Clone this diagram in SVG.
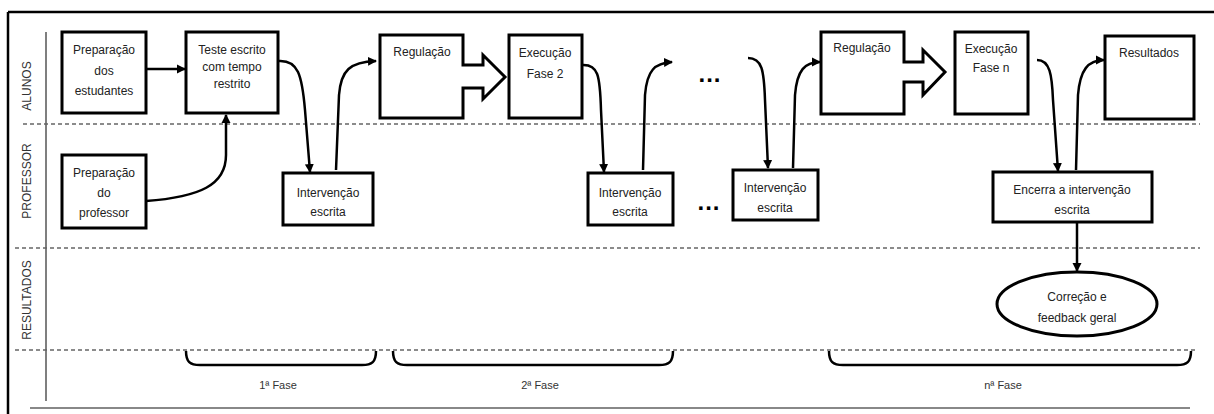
<svg xmlns="http://www.w3.org/2000/svg" width="1214" height="414" viewBox="0 0 1214 414">
<style>
.box{fill:#fff;stroke:#000;stroke-width:3}
.t{font-family:"Liberation Sans",Arial,sans-serif;font-size:12px;fill:#222;text-anchor:middle}
.lane{font-family:"Liberation Sans",Arial,sans-serif;font-size:12px;fill:#333;text-anchor:middle}
.ph{font-family:"Liberation Sans",Arial,sans-serif;font-size:11px;fill:#333;text-anchor:middle}
.dots{font-family:"Liberation Sans",Arial,sans-serif;font-size:24px;font-weight:bold;fill:#000;text-anchor:middle;letter-spacing:1px}
.c{fill:none;stroke:#000;stroke-width:2.5;marker-end:url(#ah)}
.dash{stroke:#666;stroke-width:1.5;stroke-dasharray:4 3;fill:none}
.brace{fill:none;stroke:#000;stroke-width:2.5}
</style>
<defs>
<marker id="ah" markerUnits="userSpaceOnUse" markerWidth="10" markerHeight="10" refX="8" refY="5" orient="auto">
<path d="M0,0.5 L9,5 L0,9.5 z" fill="#000"/>
</marker>
</defs>
<rect width="1214" height="414" fill="#fff"/>
<g id="frame">
<path d="M8,12 L1214,12" stroke="#000" stroke-width="2.5"/>
<path d="M8,12 L8,414" stroke="#000" stroke-width="2.5"/>
<path d="M30,408 L1190,408" stroke="#888" stroke-width="2"/>
<path d="M46,32 L46,401" stroke="#555" stroke-width="1.5"/>
<path class="dash" d="M23,124 L1200,124"/>
<path class="dash" d="M15,248 L1200,248"/>
<path class="dash" d="M15,350 L1198,350"/>
</g>
<g id="lanes">
<text class="lane" transform="translate(31,86) rotate(-90)">ALUNOS</text>
<text class="lane" transform="translate(31,181) rotate(-90)">PROFESSOR</text>
<text class="lane" transform="translate(31,300) rotate(-90)">RESULTADOS</text>
</g>
<g id="prep-estudantes">
<rect class="box" x="62" y="32" width="84" height="81"/>
<text class="t" x="104" y="54">Preparação</text>
<text class="t" x="104" y="75">dos</text>
<text class="t" x="104" y="95">estudantes</text>
</g>
<g id="teste">
<rect class="box" x="186" y="32" width="92" height="81"/>
<text class="t" x="232" y="54">Teste escrito</text>
<text class="t" x="232" y="71">com tempo</text>
<text class="t" x="232" y="88">restrito</text>
</g>
<g id="prep-professor">
<rect class="box" x="62" y="155" width="84" height="73"/>
<text class="t" x="104" y="177">Preparação</text>
<text class="t" x="104" y="197">do</text>
<text class="t" x="104" y="217">professor</text>
</g>
<g id="intervencao-1">
<rect class="box" x="283" y="173" width="90" height="52"/>
<text class="t" x="328" y="197">Intervenção</text>
<text class="t" x="328" y="216">escrita</text>
</g>
<g id="regulacao-1">
<path class="box" d="M380,35 L463,35 L463,65 L483,65 L483,55 L505,77 L483,99 L483,88 L463,88 L463,118 L380,118 Z"/>
<text class="t" x="422" y="56">Regulação</text>
</g>
<g id="execucao-2">
<rect class="box" x="509" y="35" width="73" height="83"/>
<text class="t" x="545" y="57">Execução</text>
<text class="t" x="545" y="78">Fase 2</text>
</g>
<g id="intervencao-2">
<rect class="box" x="588" y="173" width="85" height="52"/>
<text class="t" x="630" y="197">Intervenção</text>
<text class="t" x="630" y="216">escrita</text>
</g>
<g id="reticencias">
<text class="dots" x="710" y="82">...</text>
<text class="dots" x="709" y="210">...</text>
</g>
<g id="intervencao-3">
<rect class="box" x="733" y="170" width="85" height="50"/>
<text class="t" x="775" y="192">Intervenção</text>
<text class="t" x="775" y="212">escrita</text>
</g>
<g id="regulacao-n">
<path class="box" d="M821,32 L904,32 L904,62 L923,62 L923,50 L945,72 L923,95 L923,82 L904,82 L904,114 L821,114 Z"/>
<text class="t" x="862" y="52">Regulação</text>
</g>
<g id="execucao-n">
<rect class="box" x="955" y="32" width="73" height="82"/>
<text class="t" x="991" y="53">Execução</text>
<text class="t" x="991" y="72">Fase n</text>
</g>
<g id="resultados">
<rect class="box" x="1105" y="36" width="89" height="83"/>
<text class="t" x="1149" y="57">Resultados</text>
</g>
<g id="encerra">
<rect class="box" x="993" y="172" width="159" height="50"/>
<text class="t" x="1072" y="194">Encerra a intervenção</text>
<text class="t" x="1072" y="214">escrita</text>
</g>
<g id="correcao">
<ellipse class="box" cx="1077" cy="304" rx="80" ry="32"/>
<text class="t" x="1077" y="301">Correção e</text>
<text class="t" x="1077" y="322">feedback geral</text>
</g>
<g id="connectors">
<path class="c" d="M146,69 L185,69"/>
<path class="c" d="M146,201 C200,197 226,185 226,155 L226,115"/>
<path class="c" d="M279,61 C298,60 302,75 305,110 L310,172"/>
<path class="c" d="M336,170 L339,95 C341,70 350,62 376,61"/>
<path class="c" d="M582,65 C598,64 600,75 601,110 L604,172"/>
<path class="c" d="M643,170 L645,95 C647,70 655,63 672,62"/>
<path class="c" d="M748,58 C762,58 764,70 765,100 L768,168"/>
<path class="c" d="M793,168 L795,95 C797,70 805,62 820,62"/>
<path class="c" d="M1037,60 C1050,60 1052,75 1053,100 L1058,171"/>
<path class="c" d="M1076,170 L1078,95 C1080,70 1088,60 1104,60"/>
<path class="c" d="M1077,222 L1077,271"/>
</g>
<g id="fases">
<path class="brace" d="M186,351 C186,362 190,365 200,365 L362,365 C372,365 376,362 376,351"/>
<path class="brace" d="M393,351 C393,362 397,365 407,365 L659,365 C669,365 673,362 673,351"/>
<path class="brace" d="M829,351 C829,362 833,365 843,365 L1177,365 C1187,365 1191,362 1191,351"/>
<text class="ph" x="278" y="389">1ª Fase</text>
<text class="ph" x="540" y="389">2ª Fase</text>
<text class="ph" x="1003" y="389">nª Fase</text>
</g>
</svg>
